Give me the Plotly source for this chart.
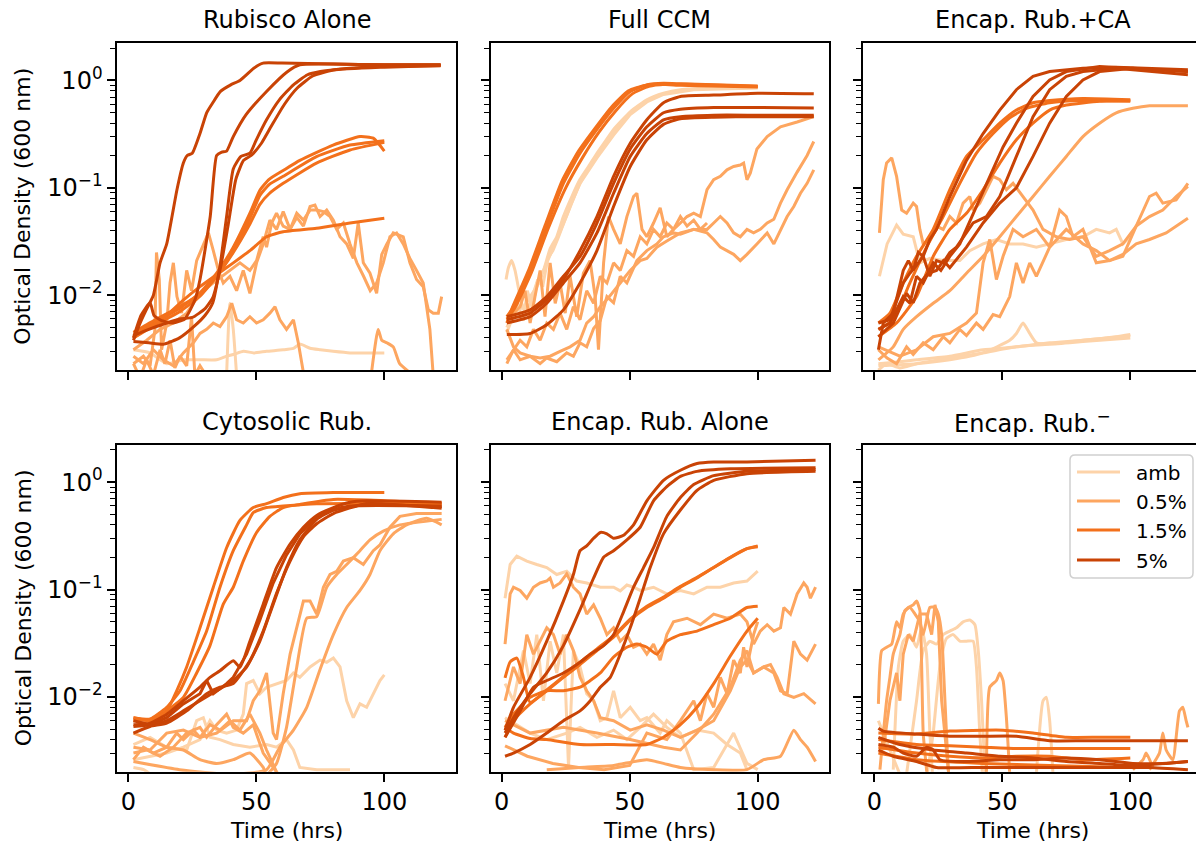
import math
import plotly.graph_objects as go

# ---------------- data (time in hours, optical density at 600 nm) ----------------
CONDITIONS = ["amb", "0.5%", "1.5%", "5%"]

RUBISCO_ALONE = [
    ("amb", [2, 8.5, 15, 21.5, 28, 34.5, 38.4, 41, 45, 49, 54, 60.5, 64.5, 67, 71, 75, 80, 86.6, 93, 100],
     [0.0031, 0.0029, 0.0023, 0.0025, 0.0025, 0.0025, 0.0027, 0.0028, 0.0030, 0.0029, 0.0030, 0.0031, 0.0032, 0.0035, 0.0032, 0.0031, 0.0030, 0.0029, 0.0029, 0.0029]),
    ("amb", [38.4, 39.7, 41, 42.3], [0.0018, 0.0084, 0.0048, 0.0018]),
    ("0.5%", [2, 5.9, 8.5, 10.4, 11, 12.1, 13, 15, 16.3, 17.6, 19, 20.8, 22.8, 24.7, 26.7, 29.3, 31.3, 33.2, 35.2, 37.1,
              39.7, 42.3, 44.9, 47.5, 50.1, 52.7, 55.3, 57.9, 60.5, 63.2, 65.8, 68.4, 71, 72.9, 74.9, 77.5, 80.1, 82.7, 85.3, 87.9,
              89.8, 91.8, 94.4, 97, 99, 101, 103.5, 107.4, 110, 112.6, 115.2, 117.2, 119.1, 121.1, 122.4],
     [0.0023, 0.0027, 0.0022, 0.0048, 0.025, 0.014, 0.0031, 0.0055, 0.013, 0.020, 0.0097, 0.0068, 0.017, 0.011, 0.021, 0.030, 0.038, 0.026, 0.017, 0.013,
      0.015, 0.011, 0.017, 0.0104, 0.020, 0.030, 0.050, 0.041, 0.060, 0.041, 0.053, 0.044, 0.067, 0.069, 0.054, 0.062, 0.050, 0.035, 0.030, 0.022,
      0.047, 0.020, 0.016, 0.0104, 0.024, 0.030, 0.038, 0.035, 0.020, 0.014, 0.012, 0.0073, 0.0068, 0.0068, 0.0097]),
    ("0.5%", [2, 7.2, 12.4, 17.6, 22.8, 28, 33.2, 38.4, 43.6, 47.5, 50.1, 52.7, 54, 56, 57.9, 60.5, 63.2, 65.8, 68.4, 71,
              73.6, 76.2, 78.8, 81.4, 84, 86.6, 89.3, 91.9, 94.5, 97, 99.6, 102.2, 104.8, 107.4, 110, 112.6, 115.2, 117.8, 119.1],
     [0.0031, 0.0038, 0.0048, 0.0055, 0.0068, 0.0104, 0.013, 0.016, 0.020, 0.017, 0.021, 0.035, 0.028, 0.047, 0.058, 0.044, 0.041, 0.058, 0.050, 0.062,
      0.062, 0.060, 0.054, 0.041, 0.047, 0.030, 0.020, 0.015, 0.011, 0.013, 0.020, 0.035, 0.038, 0.030, 0.022, 0.017, 0.013, 0.0048, 0.0018]),
    ("0.5%", [2, 5.9, 9.8, 13.7, 17.6, 21.5, 25.4, 28, 30.6, 33.2, 35.8, 38.4, 40.4, 42.3, 44.9, 47.5, 50.1, 52.7, 55.3, 57.3, 59.2, 61.8, 64.5, 66.4, 68.4],
     [0.0027, 0.0023, 0.0031, 0.0025, 0.0022, 0.0029, 0.0036, 0.0044, 0.0048, 0.0055, 0.0051, 0.0063, 0.0084, 0.0059, 0.0055, 0.0063, 0.0055, 0.0059, 0.0068, 0.0078, 0.0059, 0.0048, 0.0059, 0.0036, 0.0019]),
    ("0.5%", [95, 97.6, 99, 101, 103.5, 106, 110], [0.0019, 0.0048, 0.0038, 0.0036, 0.0033, 0.0023, 0.0019]),
    ("0.5%", [2, 4.6, 7.2, 9.8, 12.4, 14.3, 16.3, 18.2, 20.2, 22.8, 24.7, 26, 28, 31, 34, 37, 40],
     [0.0023, 0.0017, 0.0025, 0.0018, 0.0031, 0.0023, 0.0038, 0.0021, 0.0027, 0.0022, 0.0063, 0.0018, 0.0022, 0.0017, 0.0019, 0.0016, 0.0015]),
    ("1.5%", [2, 10, 20, 28, 34.5, 41, 47.5, 51.4, 55, 60.5, 67, 80, 90.5, 95.7, 100],
     [0.0042, 0.0055, 0.0075, 0.0105, 0.016, 0.028, 0.058, 0.095, 0.12, 0.145, 0.18, 0.25, 0.30, 0.29, 0.22]),
    ("1.5%", [2, 10, 20, 28, 34.5, 41, 47.5, 51.4, 55, 60.5, 73.5, 86.6, 100],
     [0.004, 0.0052, 0.007, 0.0098, 0.015, 0.026, 0.052, 0.085, 0.107, 0.128, 0.195, 0.25, 0.275]),
    ("1.5%", [2, 10, 20, 28, 34.5, 41, 47.5, 51.4, 55, 60.5, 73.5, 86.6, 100],
     [0.0045, 0.0058, 0.0078, 0.0102, 0.015, 0.025, 0.046, 0.07, 0.088, 0.11, 0.17, 0.225, 0.265]),
    ("1.5%", [2, 8, 15, 21.5, 28, 34.5, 41, 47.5, 54, 60.5, 73.5, 86.6, 100],
     [0.0040, 0.0050, 0.0065, 0.0090, 0.012, 0.0155, 0.020, 0.026, 0.035, 0.039, 0.042, 0.047, 0.052]),
    ("5%", [2, 4.6, 7, 9.8, 12.4, 15, 19, 21.5, 23, 25, 28, 30.6, 33, 36, 40, 43.6, 49, 52.7, 60, 80, 100, 122],
     [0.0038, 0.0055, 0.0073, 0.010, 0.020, 0.030, 0.096, 0.17, 0.20, 0.21, 0.32, 0.50, 0.62, 0.79, 0.91, 1.0, 1.3, 1.45, 1.45, 1.42, 1.40, 1.40]),
    ("5%", [2, 5, 8.5, 10, 13, 17, 22, 26, 28, 32, 34.5, 36.5, 38.4, 41, 46, 54, 62, 67, 80, 100, 122],
     [0.004, 0.0065, 0.0085, 0.0065, 0.0058, 0.0055, 0.006, 0.009, 0.014, 0.054, 0.20, 0.215, 0.22, 0.30, 0.48, 0.79, 1.2, 1.4, 1.42, 1.40, 1.40]),
    ("5%", [2, 8, 14, 20, 26, 30, 33, 36, 38.4, 41, 44, 47.5, 50, 54, 59, 64.5, 70, 75, 86.6, 100, 122],
     [0.0037, 0.0036, 0.0035, 0.0040, 0.0052, 0.0065, 0.0085, 0.020, 0.054, 0.15, 0.196, 0.21, 0.28, 0.43, 0.66, 0.91, 1.13, 1.21, 1.30, 1.35, 1.37]),
    ("5%", [2, 8, 15, 20, 25, 30, 33, 36, 39, 42, 45, 48, 52, 56, 61, 66, 72, 80, 100, 122],
     [0.0042, 0.0048, 0.0055, 0.0060, 0.0062, 0.0075, 0.0095, 0.018, 0.045, 0.12, 0.18, 0.20, 0.26, 0.38, 0.60, 0.85, 1.10, 1.25, 1.33, 1.38]),
]

FULL_CCM = [
    ("amb", [1.7, 2.6, 3.9, 5.2, 7.2, 9.1, 11.1, 13.7, 16.3, 18.9, 21.5, 24.1, 27.4, 30.6, 33.9, 37.2, 40.4, 43.7, 50.2, 56.7, 63.2, 69.8, 82.8, 100],
     [0.014, 0.018, 0.021, 0.017, 0.0097, 0.0068, 0.0084, 0.013, 0.017, 0.027, 0.035, 0.054, 0.083, 0.12, 0.158, 0.21, 0.27, 0.35, 0.51, 0.66, 0.76, 0.82, 0.85, 0.86]),
    ("amb", [2, 4.6, 8.5, 11.1, 13.7, 17.6, 21.5, 25.4, 30.6, 37.2, 43.7, 50.2, 56.7, 63.2, 75, 100],
     [0.005, 0.0068, 0.0078, 0.0097, 0.012, 0.02, 0.033, 0.055, 0.11, 0.2, 0.33, 0.5, 0.65, 0.75, 0.83, 0.86]),
    ("amb", [2, 4, 6, 8.5, 10, 12, 14, 16, 18, 20, 22, 24, 27, 30.6, 37.2, 43.7, 50.2, 56.7, 63.2, 75, 100],
     [0.0045, 0.006, 0.0085, 0.0058, 0.011, 0.0075, 0.014, 0.012, 0.022, 0.026, 0.034, 0.045, 0.07, 0.11, 0.19, 0.31, 0.48, 0.63, 0.74, 0.82, 0.85]),
    ("0.5%", [2, 4.6, 7.2, 9.1, 11.1, 13, 15, 16.9, 18.9, 20.9, 22.8, 24.8, 26.7, 29.3, 31.9, 34.5, 36.5, 37.8, 39.8, 41.7,
              43.7, 46.3, 48.9, 51.5, 52.8, 54.8, 56.7, 59.3, 61.9, 64.5, 67.1, 69.8, 72.4, 75, 77.6, 80.2, 82.8, 85.4, 88, 90.6,
              93.2, 94.5, 95.8, 97.1, 99.7, 103.7, 108.9, 115.4, 121.9],
     [0.0059, 0.0068, 0.0078, 0.011, 0.0055, 0.0097, 0.017, 0.0063, 0.020, 0.0084, 0.013, 0.0068, 0.015, 0.0063, 0.016, 0.021, 0.0097, 0.0031, 0.020, 0.054,
      0.041, 0.030, 0.054, 0.083, 0.089, 0.041, 0.035, 0.047, 0.065, 0.035, 0.041, 0.047, 0.054, 0.058, 0.054, 0.096, 0.119, 0.128, 0.147, 0.158,
      0.163, 0.17, 0.119, 0.137, 0.23, 0.30, 0.37, 0.41, 0.46]),
    ("0.5%", [2, 4.6, 7.2, 11.1, 15, 17.6, 21.5, 25.4, 28, 30.6, 33.2, 35.9, 38.5, 41.1, 43.7, 46.3, 48.9, 52.8, 56.7, 60.6,
              63.2, 67.1, 69.8, 75, 80.2, 82.8, 85.4, 88, 90.6, 93.2, 95.8, 99.7, 103.7, 106.3, 108.9, 111.5, 114.1, 116.7, 119.3, 121.9],
     [0.0023, 0.0031, 0.0025, 0.0027, 0.0023, 0.0026, 0.0024, 0.0029, 0.0027, 0.0036, 0.0033, 0.0049, 0.0058, 0.0097, 0.0085, 0.015, 0.013, 0.021, 0.026, 0.030,
      0.035, 0.038, 0.037, 0.041, 0.038, 0.033, 0.028, 0.026, 0.024, 0.021, 0.024, 0.030, 0.038, 0.030, 0.041, 0.054, 0.067, 0.089, 0.11, 0.147]),
    ("0.5%", [2, 4.6, 7.2, 11.1, 15, 18.9, 22.8, 26.7, 30.6, 33.2, 35.9, 38.5, 41.1, 43.7, 46.3, 50.2, 54.1, 56.7, 60.6, 64.5,
              69.8, 75, 80.2, 82.8, 85.4, 88, 90.6, 93.2, 95.8, 98.4, 101, 103.7, 106.3, 108.9, 111.5, 115.4, 119.3, 121.9],
     [0.0048, 0.0033, 0.0029, 0.0027, 0.0026, 0.0027, 0.0030, 0.0033, 0.0038, 0.0055, 0.0063, 0.0078, 0.0091, 0.011, 0.013, 0.017, 0.021, 0.022, 0.028, 0.032,
      0.038, 0.041, 0.041, 0.047, 0.054, 0.047, 0.038, 0.035, 0.041, 0.038, 0.041, 0.047, 0.051, 0.072, 0.096, 0.14, 0.20, 0.27]),
    ("0.5%", [2, 4.6, 7.2, 9.8, 12.4, 15, 17.6, 20.2, 22.8, 25.4, 28, 30.6, 33.2, 35.9, 38.5, 41.1, 43.7, 46.3, 48.9, 51.5,
              54.1, 56.7, 59.3, 61.9, 64.5, 67.1, 69.8, 72.4, 75, 77.6, 80.2],
     [0.0025, 0.0031, 0.0038, 0.0033, 0.0048, 0.0038, 0.0055, 0.0048, 0.0068, 0.0048, 0.0078, 0.0059, 0.011, 0.0084, 0.015, 0.013, 0.020, 0.017, 0.026, 0.023,
      0.035, 0.030, 0.041, 0.035, 0.047, 0.041, 0.054, 0.044, 0.050, 0.041, 0.047]),
    ("1.5%", [2, 4.6, 11.1, 17.6, 24.1, 30.6, 37.2, 43.7, 50.2, 56.7, 63.2, 69.8, 82.8, 100],
     [0.0063, 0.0078, 0.017, 0.044, 0.11, 0.21, 0.35, 0.55, 0.79, 0.91, 0.94, 0.93, 0.91, 0.89]),
    ("1.5%", [2, 5, 11.5, 18, 25, 31.5, 38, 44.5, 51, 57.5, 64, 72, 85, 100],
     [0.006, 0.0075, 0.016, 0.041, 0.10, 0.19, 0.33, 0.52, 0.75, 0.88, 0.92, 0.92, 0.90, 0.88]),
    ("1.5%", [2, 4, 10.5, 17, 23.5, 30, 36.5, 43, 49.5, 56, 62.5, 70, 82, 100],
     [0.0055, 0.0075, 0.017, 0.045, 0.115, 0.22, 0.36, 0.57, 0.80, 0.90, 0.92, 0.90, 0.89, 0.87]),
    ("5%", [2, 11.1, 17.6, 24.1, 30.6, 37.2, 43.7, 50.2, 56.7, 63.2, 69.8, 82.8, 100, 121.9],
     [0.0059, 0.0068, 0.0091, 0.014, 0.026, 0.054, 0.128, 0.26, 0.43, 0.62, 0.71, 0.73, 0.76, 0.75]),
    ("5%", [2, 11.1, 17.6, 24.1, 30.6, 37.2, 43.7, 50.2, 56.7, 63.2, 69.8, 82.8, 100, 121.9],
     [0.0063, 0.0073, 0.0097, 0.015, 0.023, 0.047, 0.11, 0.23, 0.37, 0.50, 0.54, 0.56, 0.56, 0.555]),
    ("5%", [2, 11.1, 17.6, 24.1, 30.6, 37.2, 43.7, 50.2, 56.7, 63.2, 69.8, 82.8, 100, 121.9],
     [0.0055, 0.0063, 0.0084, 0.013, 0.020, 0.038, 0.089, 0.196, 0.32, 0.43, 0.46, 0.475, 0.475, 0.475]),
    ("5%", [2, 11.1, 17.6, 24.1, 30.6, 37.2, 43.7, 50.2, 56.7, 63.2, 69.8, 82.8, 100, 121.9],
     [0.0043, 0.0044, 0.0053, 0.0073, 0.013, 0.026, 0.067, 0.158, 0.28, 0.39, 0.44, 0.455, 0.46, 0.46]),
]

ENCAP_RUB_CA = [
    ("amb", [2, 5, 8.7, 11.3, 15.2, 17.8, 21.7, 26.9, 33.4, 37.3, 42.5, 47.7, 52.9, 58.1, 63.3, 68.5, 75, 81.5, 86.7, 91.9, 94.5, 97.1, 100],
     [0.015, 0.03, 0.045, 0.037, 0.035, 0.020, 0.022, 0.021, 0.021, 0.026, 0.030, 0.033, 0.030, 0.030, 0.028, 0.030, 0.033, 0.035, 0.041, 0.038, 0.041, 0.030, 0.035]),
    ("amb", [1.6, 10, 16.5, 29.5, 42.5, 55.5, 68.5, 81.5, 94.5, 100],
     [0.0023, 0.0024, 0.0025, 0.0027, 0.0031, 0.0033, 0.0036, 0.0038, 0.0041, 0.0043]),
    ("amb", [1.6, 16.5, 29.5, 42.5, 52.9, 55.5, 58.1, 60.7, 63.3, 68.5, 81.5, 100],
     [0.0022, 0.0023, 0.0025, 0.0029, 0.0038, 0.0044, 0.0055, 0.0044, 0.0036, 0.0035, 0.0037, 0.0040]),
    ("amb", [1.6, 4.8, 10, 16.5, 29.5, 42.5, 55.5, 68.5, 81.5, 100],
     [0.002, 0.0023, 0.0021, 0.0023, 0.0026, 0.0029, 0.0033, 0.0035, 0.0038, 0.0042]),
    ("0.5%", [1.6, 7.4, 11.3, 16.5, 23, 29.5, 36, 42.5, 49, 55.5, 62, 68.5, 75, 81.5, 88, 94.5, 101, 107.5, 122.5],
     [0.0025, 0.0033, 0.0048, 0.0063, 0.0084, 0.011, 0.016, 0.023, 0.035, 0.054, 0.083, 0.128, 0.196, 0.30, 0.40, 0.50, 0.55, 0.58, 0.58]),
    ("0.5%", [2, 3.5, 4.8, 6.8, 8.7, 10.7, 12.6, 15.2, 16.5, 17.8, 19.1, 21.7, 24.3, 26.9, 29.5, 32.1, 34.7, 37.3, 38.6, 41.2,
              43.8, 46.4, 49, 51.6, 54.2, 58.1, 62, 65.9, 71.1, 76.3, 81.5, 86.7, 91.9, 97.1, 102.3, 107.5, 110.1, 112.7, 117.9, 122.5],
     [0.038, 0.119, 0.17, 0.19, 0.128, 0.062, 0.058, 0.072, 0.067, 0.041, 0.030, 0.033, 0.044, 0.041, 0.054, 0.047, 0.072, 0.083, 0.062, 0.072,
      0.096, 0.128, 0.119, 0.096, 0.11, 0.083, 0.062, 0.041, 0.035, 0.033, 0.035, 0.023, 0.026, 0.030, 0.044, 0.083, 0.089, 0.072, 0.077, 0.11]),
    ("0.5%", [1.6, 10, 16.5, 23, 29.5, 36, 39.9, 42.5, 45.1, 47.7, 50.3, 54.2, 58.1, 63.3, 68.5, 72.4, 75, 77.6, 81.5, 86.7,
              91.9, 97.1, 102.3, 107.5, 112.7, 117.9, 122.5],
     [0.0033, 0.0027, 0.0031, 0.0041, 0.0044, 0.0055, 0.0068, 0.020, 0.033, 0.014, 0.023, 0.041, 0.035, 0.041, 0.028, 0.062, 0.054, 0.035, 0.041, 0.020,
      0.021, 0.023, 0.044, 0.054, 0.062, 0.083, 0.103]),
    ("0.5%", [1.6, 5, 8.7, 12.6, 15.2, 19.1, 23, 26.9, 29.5, 33.4, 36, 39.9, 42.5, 46.4, 49, 52.9, 55.5, 58.1, 60.7, 63.3,
              68.5, 75, 81.5, 86.7, 91.9, 97.1, 102.3, 107.5, 114, 122.5],
     [0.0031, 0.0026, 0.0023, 0.0033, 0.0028, 0.0036, 0.0031, 0.0041, 0.0036, 0.0048, 0.0042, 0.0055, 0.0048, 0.0066, 0.0063, 0.0097, 0.020, 0.013, 0.020, 0.015,
      0.028, 0.041, 0.030, 0.026, 0.021, 0.024, 0.030, 0.033, 0.038, 0.052]),
    ("1.5%", [1.6, 6.1, 11.3, 16.5, 23, 29.5, 36, 42.5, 49, 55.5, 62, 68.5, 81.5, 100],
     [0.0055, 0.0068, 0.013, 0.023, 0.041, 0.096, 0.196, 0.28, 0.40, 0.53, 0.62, 0.65, 0.68, 0.66]),
    ("1.5%", [1.6, 7.4, 13.9, 20.4, 26.9, 33.4, 39.9, 46.4, 52.9, 59.4, 68.5, 81.5, 100],
     [0.0048, 0.0059, 0.013, 0.028, 0.054, 0.11, 0.21, 0.32, 0.45, 0.55, 0.62, 0.65, 0.64]),
    ("1.5%", [1.6, 8.7, 16.5, 23, 29.5, 36, 42.5, 49, 55.5, 62, 68.5, 75, 88, 100],
     [0.0041, 0.0055, 0.0097, 0.023, 0.041, 0.058, 0.096, 0.17, 0.28, 0.40, 0.53, 0.59, 0.64, 0.65]),
    ("5%", [1.6, 3.5, 7.4, 11.3, 13.3, 15.2, 17.2, 19.1, 21.7, 24.3, 29.5, 36, 42.5, 49, 55.5, 62, 68.5, 81.5, 94.5, 122.5],
     [0.0031, 0.0055, 0.0068, 0.017, 0.021, 0.017, 0.025, 0.023, 0.033, 0.041, 0.083, 0.18, 0.32, 0.53, 0.82, 1.09, 1.21, 1.30, 1.33, 1.26]),
    ("5%", [1.6, 6.1, 11.3, 13.9, 16.5, 19.1, 23, 26, 29.5, 33.4, 39.9, 45.1, 50.3, 55.5, 62, 68.5, 75, 88, 122.5],
     [0.0048, 0.0055, 0.0097, 0.0084, 0.015, 0.013, 0.020, 0.017, 0.023, 0.030, 0.067, 0.128, 0.24, 0.40, 0.71, 1.01, 1.21, 1.35, 1.21]),
    ("5%", [1.6, 6.1, 11.3, 13.9, 16.5, 19.1, 21.7, 24.3, 26.9, 29.5, 32.1, 38.6, 43.8, 49, 55.5, 62, 68.5, 75, 81.5, 94.5, 122.5],
     [0.0055, 0.0059, 0.013, 0.016, 0.019, 0.023, 0.015, 0.021, 0.020, 0.025, 0.028, 0.047, 0.054, 0.083, 0.196, 0.46, 0.82, 1.09, 1.21, 1.30, 1.13]),
    ("5%", [1.6, 7.4, 12.6, 15.2, 17.8, 21, 24.3, 27, 29.5, 36, 42.5, 49, 55.5, 62, 68.5, 75, 81.5, 88, 101, 122.5],
     [0.0041, 0.0055, 0.0104, 0.0085, 0.013, 0.016, 0.017, 0.021, 0.018, 0.028, 0.047, 0.072, 0.10, 0.196, 0.40, 0.71, 1.01, 1.21, 1.30, 1.21]),
]

CYTOSOLIC_RUB = [
    ("amb", [2, 8.5, 15, 21.5, 28, 31.9, 34.5, 38.4, 42.3, 44.9, 46.2, 48.8, 51.4, 54, 57.9, 61.8, 64.5, 67, 71, 74.9,
             77.5, 80.1, 82.7, 85.3, 87.9, 90.5, 93.1, 95.7, 98.3, 100],
     [0.0026, 0.0028, 0.003, 0.0034, 0.004, 0.006, 0.0049, 0.0046, 0.0049, 0.0069, 0.0133, 0.0142, 0.0107, 0.0123, 0.0133, 0.0142, 0.0167, 0.0152, 0.019, 0.022,
      0.021, 0.023, 0.019, 0.0092, 0.0064, 0.0086, 0.008, 0.0107, 0.0142, 0.016]),
    ("amb", [2, 8.5, 15, 22.8, 26.7, 29.3, 31.9, 35.8, 41, 47.5, 54, 57.9, 61.8, 64.5, 67, 73.6, 86.6],
     [0.0036, 0.0042, 0.0034, 0.0032, 0.006, 0.0064, 0.0042, 0.004, 0.0036, 0.0034, 0.0036, 0.0034, 0.004, 0.0032, 0.0022, 0.0021, 0.0021]),
    ("amb", [2, 6, 10], [0.0022, 0.0021, 0.0018]),
    ("0.5%", [2, 8.5, 15, 21.5, 28, 34.5, 41, 46.2, 48.8, 51.4, 54, 56.6, 57.9, 60.5, 63.2, 65.8, 68.4, 71, 73.6, 76.2,
              78.8, 81.4, 84, 87.9, 91.8, 95.7, 98.3, 102.2, 106.1, 112.6, 122.4],
     [0.0034, 0.0032, 0.0046, 0.0049, 0.0042, 0.0046, 0.006, 0.006, 0.0092, 0.0114, 0.0167, 0.0046, 0.004, 0.0107, 0.025, 0.044, 0.078, 0.078, 0.059, 0.105,
      0.138, 0.148, 0.184, 0.198, 0.171, 0.23, 0.26, 0.38, 0.48, 0.51, 0.51]),
    ("0.5%", [2, 8.5, 15, 21.5, 28, 34.5, 41, 47.5, 52.7, 54, 57.9, 61.8, 65.8, 69.7, 73.6, 77.5, 81.4, 85.3, 90.5, 94.4, 99.6, 106.1, 122.4],
     [0.0046, 0.0040, 0.0034, 0.0032, 0.0026, 0.0024, 0.0026, 0.003, 0.0022, 0.0019, 0.0024, 0.0052, 0.019, 0.054, 0.056, 0.105, 0.138, 0.171, 0.23, 0.29, 0.35, 0.40, 0.45]),
    ("0.5%", [2, 20, 40, 54, 59.2, 64.5, 69.7, 74.9, 80.1, 85.3, 90.5, 94.4, 98.3, 103.5, 108.7, 116.5, 122.4],
     [0.0025, 0.0021, 0.0019, 0.0021, 0.0034, 0.0049, 0.008, 0.018, 0.038, 0.068, 0.098, 0.138, 0.23, 0.33, 0.40, 0.46, 0.40]),
    ("0.5%", [2, 5.9, 9.8, 15, 18.9, 21.5, 25.4, 28, 31.9, 35.8, 39.7, 43.6, 47.5, 51.4, 54, 57.9, 60.5],
     [0.0026, 0.0034, 0.003, 0.0034, 0.0046, 0.004, 0.0049, 0.0042, 0.0055, 0.0049, 0.006, 0.0049, 0.0069, 0.0046, 0.0032, 0.002, 0.0017]),
    ("0.5%", [2, 7.2, 12.4, 17.6, 22.8, 28, 30.6, 34.5, 38.4, 41, 44.9, 48.8, 52.7, 56.6, 59.2],
     [0.003, 0.0032, 0.0028, 0.0034, 0.0046, 0.0052, 0.0042, 0.0055, 0.0069, 0.0052, 0.0046, 0.0055, 0.003, 0.0022, 0.0018]),
    ("1.5%", [2, 8.5, 15, 18.9, 22.8, 28, 33.2, 38.4, 43.6, 48.8, 54, 60.5, 67, 80.1, 100],
     [0.0064, 0.0062, 0.0074, 0.0114, 0.019, 0.044, 0.105, 0.245, 0.44, 0.58, 0.63, 0.72, 0.78, 0.80, 0.80]),
    ("1.5%", [2, 8.5, 15, 20.2, 25.4, 30.6, 35.8, 41, 46.2, 48.8, 54, 60.5, 73.6, 122.4],
     [0.006, 0.0062, 0.008, 0.0114, 0.0212, 0.041, 0.105, 0.23, 0.40, 0.52, 0.58, 0.60, 0.63, 0.63]),
    ("1.5%", [2, 8.5, 15, 21.5, 26.7, 31.9, 37.1, 41, 44.9, 50.1, 55.3, 60.5, 67, 80.1, 122.4],
     [0.0064, 0.006, 0.0074, 0.0099, 0.0167, 0.030, 0.073, 0.105, 0.184, 0.34, 0.48, 0.58, 0.62, 0.69, 0.63]),
    ("5%", [2, 8.5, 15, 21.5, 28, 31.9, 35.8, 41, 43.6, 47.5, 52.7, 57.9, 63.2, 68.4, 73.6, 80.1, 86.6, 93.1, 122.4],
     [0.0055, 0.0057, 0.0069, 0.0092, 0.0123, 0.0152, 0.0175, 0.0217, 0.0189, 0.033, 0.073, 0.16, 0.265, 0.38, 0.49, 0.58, 0.65, 0.67, 0.65]),
    ("5%", [2, 8.5, 15, 21.5, 28, 30.6, 33.2, 38.4, 41, 46.2, 51.4, 56.6, 61.8, 67, 73.6, 80.1, 93.1, 122.4],
     [0.006, 0.0055, 0.0064, 0.0086, 0.0107, 0.0142, 0.0107, 0.0133, 0.0152, 0.025, 0.052, 0.115, 0.21, 0.33, 0.48, 0.55, 0.63, 0.59]),
    ("5%", [2, 8.5, 15, 21.5, 28, 34.5, 41, 46.2, 51.4, 56.6, 61.8, 67, 73.6, 80.1, 86.6, 122.4],
     [0.0053, 0.0055, 0.006, 0.0074, 0.0092, 0.0114, 0.0142, 0.0189, 0.033, 0.073, 0.16, 0.29, 0.45, 0.55, 0.60, 0.60]),
    ("5%", [2, 8.5, 15, 22.8, 30.6, 35.8, 41, 47.5, 52.7, 57.9, 63.2, 68.4, 73.6, 80.1, 93.1, 122.4],
     [0.0046, 0.0053, 0.0057, 0.0074, 0.0107, 0.0123, 0.0133, 0.0217, 0.041, 0.092, 0.184, 0.31, 0.41, 0.51, 0.63, 0.57]),
]

ENCAP_RUB_ALONE = [
    ("amb", [1.3, 3.3, 5.9, 9.8, 13.7, 17.6, 21.5, 25.4, 29.3, 33.2, 38.5, 43.7, 46.3, 48.9, 51.5, 54.1, 59.3, 64.5, 69.8, 75,
             80.2, 85.4, 90.6, 95.8, 100],
     [0.083, 0.171, 0.205, 0.184, 0.171, 0.16, 0.138, 0.148, 0.12, 0.115, 0.105, 0.105, 0.097, 0.11, 0.105, 0.098, 0.105, 0.091, 0.098, 0.091,
      0.105, 0.105, 0.115, 0.12, 0.148]),
    ("amb", [1.3, 4.6, 8.5, 11.1, 13.7, 16.3, 18.9, 21.5, 24.1, 26.1, 28, 30.6, 33.2, 35.9, 38.5, 41.1, 43.7, 46.3, 50.2, 54.1,
             56.7, 61.9, 64.5, 69.8, 75, 82.8, 90.6, 95.8, 100],
     [0.0133, 0.0092, 0.027, 0.0133, 0.038, 0.0092, 0.033, 0.0167, 0.038, 0.0022, 0.027, 0.019, 0.0107, 0.0092, 0.006, 0.0064, 0.0114, 0.0064, 0.008, 0.006,
      0.0064, 0.0046, 0.006, 0.0046, 0.0021, 0.0022, 0.0046, 0.0024, 0.0021]),
    ("amb", [1.3, 11.1, 17.6, 25.4, 30.6, 37.2, 43.7, 48.9, 54.1, 59.3, 64.5, 69.8, 76.3, 82.8, 88, 93.2, 95.8],
     [0.0064, 0.0046, 0.004, 0.0046, 0.0052, 0.0042, 0.0049, 0.004, 0.0052, 0.0069, 0.0052, 0.0042, 0.0049, 0.0046, 0.0036, 0.003, 0.0021]),
    ("0.5%", [1.3, 3.3, 4.6, 7.2, 9.8, 12.4, 15, 17.6, 18.9, 20.2, 22.8, 25.4, 28, 30.6, 33.2, 35.9, 38.5, 41.1, 43.7, 46.3,
              48.9, 51.5, 54.1, 56.7, 59.3, 61.9, 64.5, 67.1, 72.4, 77.6, 82.8, 88, 93.2, 95.8, 98.4, 101, 103.7, 106.3, 108.9, 110.2,
              112.8, 115.4, 118, 119.3, 120.6, 122.6],
     [0.031, 0.091, 0.105, 0.098, 0.083, 0.105, 0.115, 0.12, 0.128, 0.105, 0.115, 0.14, 0.105, 0.091, 0.059, 0.072, 0.054, 0.038, 0.044, 0.033,
      0.038, 0.029, 0.031, 0.025, 0.031, 0.022, 0.038, 0.050, 0.054, 0.047, 0.059, 0.054, 0.059, 0.050, 0.031, 0.041, 0.047, 0.041, 0.044, 0.068,
      0.059, 0.091, 0.115, 0.105, 0.083, 0.105]),
    ("0.5%", [1.3, 4.6, 7.2, 9.8, 12.4, 15, 17.6, 20.2, 22.8, 25.4, 28, 30.6, 33.2, 35.9, 38.5, 43.7, 50.2, 56.7, 63.2, 69.8,
              76.3, 82.8, 89.3, 93.2, 95.8, 98.4, 102.3, 106.3, 108.9, 111.5, 114.1, 116.7, 119.3, 122.6],
     [0.0092, 0.019, 0.0133, 0.038, 0.025, 0.033, 0.044, 0.038, 0.025, 0.038, 0.027, 0.0152, 0.0114, 0.0092, 0.0064, 0.006, 0.0049, 0.0055, 0.0049, 0.0042,
      0.0049, 0.006, 0.0114, 0.019, 0.022, 0.0167, 0.019, 0.0167, 0.0114, 0.0107, 0.033, 0.025, 0.022, 0.031]),
    ("0.5%", [1.3, 11.1, 24.1, 37.2, 50.2, 63.2, 69.8, 76.3, 82.8, 89.3, 93.2, 95.8, 98.4, 102.3, 105, 107.6, 110.2, 114.1, 118, 122.6],
     [0.006, 0.0046, 0.0052, 0.0046, 0.004, 0.0034, 0.0032, 0.0046, 0.0069, 0.0123, 0.022, 0.027, 0.0167, 0.019, 0.020, 0.0152, 0.0107, 0.0099, 0.0107, 0.0086]),
    ("0.5%", [17.6, 30.6, 43.7, 56.7, 63.2, 69.8, 82.8, 95.8, 102.3, 108.9, 114.1, 116.7, 119.3, 122.6],
     [0.0021, 0.0022, 0.0023, 0.0026, 0.0024, 0.0022, 0.0021, 0.0021, 0.0026, 0.0028, 0.0049, 0.004, 0.0034, 0.0025]),
    ("0.5%", [1.3, 10, 20, 30, 40, 50, 56.7, 64.5, 69.8, 75, 77.6, 80.2, 82.8, 85.4, 88, 90.6, 93.2, 94.5, 95.8, 98.4, 100],
     [0.0035, 0.0028, 0.0024, 0.0022, 0.0021, 0.0023, 0.0046, 0.004, 0.006, 0.0092, 0.006, 0.0107, 0.008, 0.0152, 0.0107, 0.022, 0.0167, 0.029, 0.019, 0.038, 0.050]),
    ("1.5%", [1.3, 4.6, 11.1, 17.6, 24.1, 30.6, 37.2, 43.7, 50.2, 56.7, 63.2, 69.8, 76.3, 82.8, 89.3, 95.8, 100],
     [0.0042, 0.006, 0.0086, 0.0114, 0.0152, 0.020, 0.027, 0.036, 0.052, 0.068, 0.083, 0.105, 0.128, 0.16, 0.198, 0.24, 0.255]),
    ("1.5%", [1.3, 3.3, 5.9, 8.5, 11.1, 17.6, 24.1, 30.6, 37.2, 43.7, 50.2, 56.7, 63.2, 69.8, 76.3, 82.8, 89.3, 95.8, 100],
     [0.015, 0.0212, 0.023, 0.0152, 0.0089, 0.0116, 0.0155, 0.021, 0.028, 0.037, 0.053, 0.070, 0.085, 0.107, 0.13, 0.16, 0.20, 0.24, 0.25]),
    ("1.5%", [1.3, 4.6, 11.1, 17.6, 24.1, 30.6, 34.6, 38.5, 43.7, 48.9, 52.8, 56.7, 60.6, 64.5, 69.8, 76.3, 82.8, 89.3, 95.8, 100],
     [0.0052, 0.0069, 0.0099, 0.0114, 0.0114, 0.0123, 0.0142, 0.0167, 0.0235, 0.029, 0.031, 0.029, 0.025, 0.033, 0.038, 0.041, 0.047, 0.054, 0.068, 0.07]),
    ("1.5%", [1.3, 4.6, 11.1, 17.6, 30.6, 43.7, 56.7, 63.2, 69.8, 76.3, 82.8, 89.3, 95.8, 100],
     [0.0052, 0.0046, 0.0041, 0.004, 0.0036, 0.0036, 0.0036, 0.0042, 0.0055, 0.008, 0.0133, 0.024, 0.041, 0.054]),
    ("5%", [1.3, 4.6, 11.1, 17.6, 24.1, 28, 30.6, 33.2, 35.9, 38.5, 41.1, 43.7, 47.6, 51.5, 56.7, 63.2, 69.8, 76.3, 82.8, 95.8, 122.6],
     [0.0049, 0.008, 0.0152, 0.033, 0.078, 0.138, 0.23, 0.255, 0.30, 0.34, 0.33, 0.30, 0.32, 0.40, 0.67, 1.04, 1.29, 1.49, 1.54, 1.54, 1.60]),
    ("5%", [1.3, 4.6, 11.1, 17.6, 24.1, 30.6, 35.9, 39.8, 43.7, 48.9, 54.1, 59.3, 64.5, 69.8, 76.3, 89.3, 122.6],
     [0.0046, 0.0064, 0.0107, 0.0167, 0.030, 0.065, 0.128, 0.20, 0.23, 0.29, 0.38, 0.67, 0.91, 1.13, 1.26, 1.33, 1.36]),
    ("5%", [1.3, 7.2, 12.4, 17.6, 24.1, 30.6, 34.6, 39.8, 43.7, 47.6, 51.5, 55.4, 59.3, 64.5, 69.8, 75, 82.8, 95.8, 122.6],
     [0.0042, 0.0074, 0.0123, 0.0142, 0.0167, 0.021, 0.025, 0.030, 0.038, 0.062, 0.105, 0.16, 0.245, 0.48, 0.72, 0.95, 1.15, 1.26, 1.31]),
    ("5%", [1.3, 4.6, 11.1, 17.6, 24.1, 30.6, 34.6, 38.5, 42.4, 46.3, 50.2, 54.1, 58, 63.2, 69.8, 76.3, 82.8, 95.8, 122.6],
     [0.0028, 0.003, 0.0036, 0.0046, 0.006, 0.0074, 0.0092, 0.0123, 0.0152, 0.025, 0.044, 0.083, 0.16, 0.33, 0.55, 0.84, 1.04, 1.2, 1.26]),
]

ENCAP_RUB_MINUS = [
    ("amb", [12, 16.5, 19.1, 21.7, 24.3, 26.9, 29.5, 32.1, 34.7, 37.3, 39.3, 40.6, 41.9, 43.2, 43.8],
     [0.0015, 0.0092, 0.027, 0.033, 0.031, 0.038, 0.041, 0.044, 0.05, 0.052, 0.047, 0.027, 0.0092, 0.0021, 0.0015]),
    ("amb", [20, 23, 25.6, 28.2, 30.8, 33.4, 36, 38.6, 39.9, 41.2, 42.5],
     [0.0015, 0.0046, 0.019, 0.035, 0.038, 0.033, 0.033, 0.033, 0.019, 0.0046, 0.0015]),
    ("amb", [63.3, 65.9, 67.2, 68.5, 69.8], [0.0019, 0.0092, 0.0099, 0.006, 0.0019]),
    ("amb", [1.6, 3.5, 6.1, 10], [0.006, 0.0046, 0.0032, 0.0019]),
    ("amb", [7.4, 9.4, 11.3, 13.9, 16.5, 18.5, 20.4, 21.7, 23], [0.0021, 0.019, 0.033, 0.038, 0.029, 0.044, 0.025, 0.0046, 0.0015]),
    ("0.5%", [1.6, 2.9, 4.8, 6.8, 8.7, 10, 11.3, 13.3, 15.2, 16.5, 17.8, 18.5, 19.1, 20.4, 21],
     [0.0086, 0.027, 0.029, 0.031, 0.050, 0.044, 0.059, 0.068, 0.072, 0.078, 0.064, 0.019, 0.0046, 0.0021, 0.0015]),
    ("0.5%", [2.2, 4.8, 6.1, 7.4, 10, 12, 13.9, 15.9, 17.8, 19.1, 21.7, 23.7, 25, 26.3, 27.6, 28.9, 29.5],
     [0.0021, 0.0092, 0.0152, 0.025, 0.038, 0.064, 0.068, 0.059, 0.050, 0.038, 0.068, 0.068, 0.059, 0.038, 0.0092, 0.0021, 0.0015]),
    ("0.5%", [3.5, 6.1, 8.7, 10, 11.3, 13.3, 15.2, 17.8, 20.4, 22.4, 23.7, 25, 26.3, 27.6, 29.5],
     [0.0032, 0.0092, 0.0167, 0.0092, 0.025, 0.038, 0.033, 0.059, 0.059, 0.038, 0.072, 0.050, 0.0092, 0.0046, 0.0015]),
    ("0.5%", [43.8, 45.1, 47.7, 49, 50.3, 51.6, 52.9], [0.0019, 0.0123, 0.0142, 0.0167, 0.0142, 0.0064, 0.0019]),
    ("0.5%", [107.5, 111.4, 112.7, 114, 116.6, 119.2, 120.5, 121.8, 122.5], [0.0021, 0.003, 0.0046, 0.0032, 0.0026, 0.0074, 0.008, 0.006, 0.0052]),
    ("0.5%", [101, 105, 106.2, 108.8], [0.0021, 0.0026, 0.003, 0.0022]),
    ("1.5%", [1.6, 16.5, 29.5, 42.5, 50.3, 62, 75, 88, 100], [0.0046, 0.0045, 0.0048, 0.0049, 0.0049, 0.0046, 0.0042, 0.0042, 0.0042]),
    ("1.5%", [1.6, 16.5, 29.5, 42.5, 55.5, 68.5, 81.5, 100], [0.004, 0.0036, 0.0035, 0.0034, 0.0033, 0.0033, 0.0033, 0.0033]),
    ("1.5%", [1.6, 16.5, 29.5, 42.5, 55.5, 68.5, 81.5, 100], [0.0034, 0.003, 0.0028, 0.0027, 0.0028, 0.0028, 0.0026, 0.0027]),
    ("1.5%", [1.6, 16.5, 42.5, 68.5, 100], [0.003, 0.0026, 0.0024, 0.0023, 0.0022]),
    ("5%", [1.6, 3.5, 16.5, 29.5, 42.5, 55.5, 68.5, 81.5, 94.5, 122.5],
     [0.0051, 0.0048, 0.0045, 0.0043, 0.0043, 0.0043, 0.0039, 0.0039, 0.0039, 0.0039]),
    ("5%", [1.6, 7.4, 11.3, 16.5, 20.4, 23, 25.6, 36, 49, 62, 75, 88, 101, 114, 122.5],
     [0.0036, 0.0034, 0.003, 0.0028, 0.0034, 0.0032, 0.0026, 0.0025, 0.0026, 0.0026, 0.0027, 0.0026, 0.0024, 0.0024, 0.0025]),
    ("5%", [1.6, 7.4, 16.5, 24.3, 42.5, 68.5, 94.5, 107.5, 122.5],
     [0.0032, 0.0028, 0.0025, 0.0022, 0.0022, 0.0022, 0.0022, 0.0022, 0.0021]),
    ("5%", [1.6, 10, 23, 36, 49, 62, 75, 88, 101, 122.5],
     [0.0042, 0.0036, 0.0032, 0.003, 0.0028, 0.0027, 0.0025, 0.0024, 0.0023, 0.0025]),
]

PANEL_TITLES = ["Rubisco Alone", "Full CCM", "Encap. Rub.+CA",
                "Cytosolic Rub.", "Encap. Rub. Alone", "Encap. Rub.<sup>\u2212</sup>"]
PANEL_DATA = [RUBISCO_ALONE, FULL_CCM, ENCAP_RUB_CA, CYTOSOLIC_RUB, ENCAP_RUB_ALONE, ENCAP_RUB_MINUS]
X_TICKS = [0, 50, 100]
Y_TICKS = [0.01, 0.1, 1]
Y_TICK_TEXT = ["10<sup>\u22122</sup>", "10<sup>\u22121</sup>", "10<sup>0</sup>"]

# ---------------- styling ----------------
COLORS = {"amb": "#fdd3a9", "0.5%": "#fda660", "1.5%": "#f3701b", "5%": "#c94305"}
FONT = "DejaVu Sans"
W, H = 1196, 846
COL_PX = [(117.3, 455.7), (490.7, 829.1), (863.3, 1196.0)]
ROW_PX = [(43.3, 370.0), (445.0, 771.7)]
AX_W = 338.4
PX_PER_HR = 2.56
X0 = -4.3
Y_RANGE = [-2.697, 0.346]

minor_vals = [m * 10.0 ** k for k in (-3, -2, -1, 0) for m in range(2, 10)]
minor_vals = [v for v in minor_vals if 0.002 <= v <= 2.2]


def line_shape(od):
    """Smooth growth curves are drawn as splines, noisy traces as straight segments."""
    logs = [math.log10(v) for v in od]
    diffs = [b - a for a, b in zip(logs, logs[1:]) if abs(b - a) > 0.02]
    turns = sum(1 for a, b in zip(diffs, diffs[1:]) if a * b < 0)
    return "spline" if turns <= 3 else "linear"


fig = go.Figure()
layout = dict(width=W, height=H, margin=dict(l=0, r=0, t=0, b=0),
              plot_bgcolor="white", paper_bgcolor="white",
              font=dict(family=FONT, color="black"), showlegend=False)

annotations = []
shapes = []
for i, (curves, title) in enumerate(zip(PANEL_DATA, PANEL_TITLES)):
    r, c = divmod(i, 3)
    n = i + 1
    xa, ya = f"x{n}", f"y{n}"
    for cond in CONDITIONS:
        for cc, t, od in curves:
            if cc != cond:
                continue
            assert len(t) == len(od), (title, cond, len(t), len(od))
            shape = line_shape(od)
            line = dict(color=COLORS[cond], width=3, shape=shape)
            if shape == "spline":
                line["smoothing"] = 0.5
            fig.add_trace(go.Scatter(x=t, y=od, mode="lines", xaxis=xa, yaxis=ya, line=line,
                                     name=cond, showlegend=False, hoverinfo="skip"))
    x_l, x_r = COL_PX[c]
    y_t, y_b = ROW_PX[r]
    xr = [X0, X0 + (x_r - x_l) / PX_PER_HR]
    layout[f"xaxis{n}"] = dict(domain=[x_l / W, x_r / W], range=xr, anchor=ya,
                               tickvals=X_TICKS, ticks="outside", ticklen=8, tickwidth=1.8, tickcolor="black",
                               showticklabels=(r == 1), tickfont=dict(size=24, family=FONT, color="black"),
                               showline=True, linecolor="black", linewidth=1.8, mirror=True,
                               showgrid=False, zeroline=False, fixedrange=True)
    layout[f"yaxis{n}"] = dict(domain=[1 - y_b / H, 1 - y_t / H], range=Y_RANGE, type="log", anchor=xa,
                               tickvals=Y_TICKS, ticktext=Y_TICK_TEXT, ticks="outside", ticklen=8, tickwidth=1.8,
                               tickcolor="black", showticklabels=(c == 0),
                               tickfont=dict(size=24, family=FONT, color="black"),
                               minor=dict(tickvals=minor_vals, ticks="outside", ticklen=5, tickwidth=1.3,
                                          tickcolor="black", showgrid=False),
                               showline=True, linecolor="black", linewidth=1.8, mirror=(c != 2),
                               showgrid=False, zeroline=False, fixedrange=True)
    cx = (x_l + AX_W / 2) / W
    annotations.append(dict(text=title, x=cx, y=1 - (y_t - 23.0) / H,
                            xref="paper", yref="paper", xanchor="center", yanchor="middle",
                            showarrow=False, font=dict(size=24, family=FONT, color="black")))
    if r == 1:
        annotations.append(dict(text="Time (hrs)", x=cx, y=1 - 830.5 / H,
                                xref="paper", yref="paper", xanchor="center", yanchor="middle",
                                showarrow=False, font=dict(size=22, family=FONT, color="black")))
    if c == 0:
        annotations.append(dict(text="Optical Density (600 nm)", x=23 / W, y=1 - (y_t + y_b) / 2 / H,
                                xref="paper", yref="paper", xanchor="center", yanchor="middle", textangle=-90,
                                showarrow=False, font=dict(size=22, family=FONT, color="black")))

# ---------------- legend (drawn as a framed box in the last panel) ----------------
LEG_BOX = (1070.0, 455.0, 1193.0, 578.0)   # left, top, right, bottom in pixels
LEG_ROWS = [472.0, 501.0, 530.0, 560.0]
LEG_LINE_X = (1077.0, 1120.0)
LEG_TEXT_X = 1134.0


def px(x):
    return x / W


def py(y):
    return 1 - y / H


lx0, ly0, lx1, ly1 = LEG_BOX
rad = 5.0
path = (f"M {px(lx0 + rad)},{py(ly0)} L {px(lx1 - rad)},{py(ly0)} Q {px(lx1)},{py(ly0)} {px(lx1)},{py(ly0 + rad)} "
        f"L {px(lx1)},{py(ly1 - rad)} Q {px(lx1)},{py(ly1)} {px(lx1 - rad)},{py(ly1)} "
        f"L {px(lx0 + rad)},{py(ly1)} Q {px(lx0)},{py(ly1)} {px(lx0)},{py(ly1 - rad)} "
        f"L {px(lx0)},{py(ly0 + rad)} Q {px(lx0)},{py(ly0)} {px(lx0 + rad)},{py(ly0)} Z")
shapes.append(dict(type="path", path=path, xref="paper", yref="paper",
                   fillcolor="rgba(255,255,255,0.8)", line=dict(color="#d0d0d0", width=1.5), layer="above"))
for cond, yy in zip(CONDITIONS, LEG_ROWS):
    shapes.append(dict(type="line", xref="paper", yref="paper", x0=px(LEG_LINE_X[0]), x1=px(LEG_LINE_X[1]),
                       y0=py(yy), y1=py(yy), line=dict(color=COLORS[cond], width=3), layer="above"))
    annotations.append(dict(text=cond, x=px(LEG_TEXT_X), y=py(yy + 1), xref="paper", yref="paper",
                            xanchor="left", yanchor="middle", showarrow=False,
                            font=dict(size=20, family=FONT, color="black")))

layout["annotations"] = annotations
layout["shapes"] = shapes
fig.update_layout(**layout)
fig.write_html("out.html")
